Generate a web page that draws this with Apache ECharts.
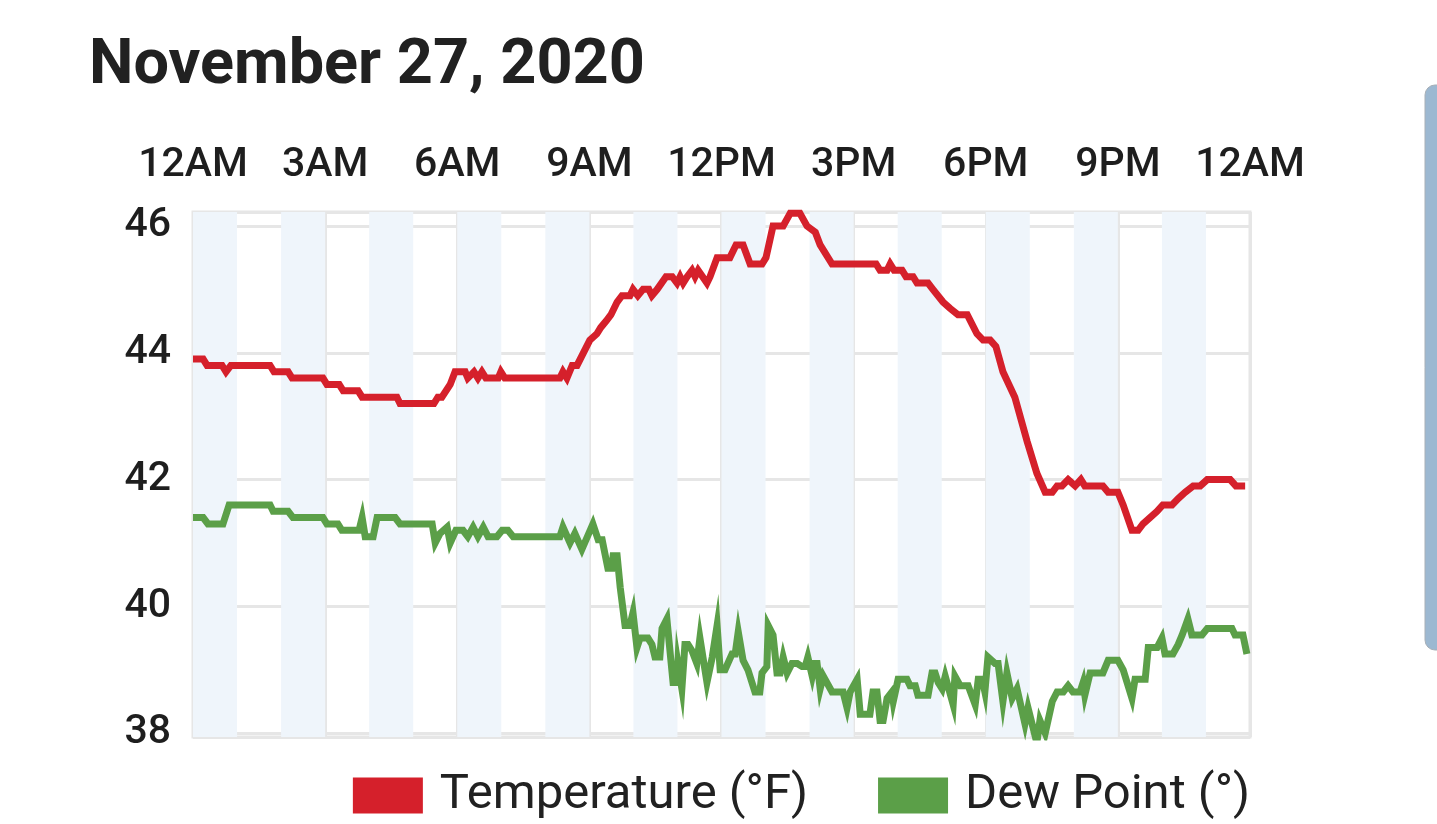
<!DOCTYPE html>
<html lang="en">
<head>
    <meta charset="UTF-8">
    <title>November 27, 2020</title>
    <script type="text/javascript" src="https://cdn.jsdelivr.net/npm/echarts@6/dist/echarts.min.js"></script>
    <style>
        html, body { margin: 0; padding: 0; background: #fff; }
        #charts { width: 1437px; height: 824px; }
    </style>
</head>
<body>
<div id="charts"></div>
<script>
    // hours since midnight
    var tempHours = [0, 0.23, 0.32, 0.66, 0.75, 0.86, 1.75, 1.84, 2.16, 2.25, 2.95, 3.04, 3.32, 3.41, 3.75, 3.84,
        4.63, 4.70, 5.47, 5.56, 5.65, 5.84, 5.95, 6.18, 6.24, 6.38, 6.47, 6.56, 6.65, 6.93, 6.99, 7.08,
        8.33, 8.40, 8.49, 8.61, 8.72, 9.01, 9.17, 9.26, 9.38, 9.49, 9.63, 9.74, 9.92, 9.99, 10.10, 10.22,
        10.35, 10.42, 10.54, 10.74, 10.88, 10.99, 11.06, 11.13, 11.22, 11.33, 11.40, 11.47, 11.67, 11.74,
        11.90, 12.19, 12.33, 12.49, 12.65, 12.92, 13.01, 13.17, 13.40, 13.56, 13.78, 13.94, 14.13, 14.24,
        14.51, 15.51, 15.60, 15.76, 15.83, 15.92, 16.10, 16.19, 16.35, 16.44, 16.69, 16.80, 17.03, 17.19,
        17.37, 17.58, 17.80, 17.94, 18.10, 18.23, 18.39, 18.66, 18.94, 19.16, 19.35, 19.51, 19.62, 19.73,
        19.87, 20.03, 20.16, 20.25, 20.66, 20.78, 21.00, 21.12, 21.32, 21.46, 21.57, 21.73, 21.89, 22.02,
        22.23, 22.37, 22.53, 22.71, 22.87, 23.03, 23.55, 23.68, 23.89]
    var tempValues = [43.9, 43.9, 43.8, 43.8, 43.7, 43.8, 43.8, 43.7, 43.7, 43.6, 43.6, 43.5, 43.5, 43.4, 43.4, 43.3,
        43.3, 43.2, 43.2, 43.3, 43.3, 43.5, 43.7, 43.7, 43.6, 43.7, 43.6, 43.7, 43.6, 43.6, 43.7, 43.6,
        43.6, 43.7, 43.6, 43.8, 43.8, 44.2, 44.3, 44.4, 44.5, 44.6, 44.8, 44.9, 44.9, 45.0, 44.9, 45.0,
        45.0, 44.9, 45.0, 45.2, 45.2, 45.1, 45.2, 45.1, 45.2, 45.3, 45.2, 45.3, 45.1, 45.2,
        45.5, 45.5, 45.7, 45.7, 45.4, 45.4, 45.5, 46.0, 46.0, 46.2, 46.2, 46.0, 45.9, 45.7,
        45.4, 45.4, 45.3, 45.3, 45.4, 45.3, 45.3, 45.2, 45.2, 45.1, 45.1, 45.0, 44.8, 44.7,
        44.6, 44.6, 44.3, 44.2, 44.2, 44.1, 43.7, 43.3, 42.6, 42.1, 41.8, 41.8, 41.9, 41.9,
        42.0, 41.9, 42.0, 41.9, 41.9, 41.8, 41.8, 41.6, 41.2, 41.2, 41.3, 41.4, 41.5, 41.6,
        41.6, 41.7, 41.8, 41.9, 41.9, 42.0, 42.0, 41.9, 41.9]

    var dewHours = [0, 0.23, 0.34, 0.68, 0.82, 1.75, 1.82, 2.16, 2.27, 2.95, 3.04, 3.29, 3.38, 3.77, 3.84, 3.91,
        4.09, 4.18, 4.59, 4.70, 5.43, 5.50, 5.61, 5.77, 5.84, 5.97, 6.13, 6.24, 6.36, 6.47, 6.59, 6.70,
        6.90, 7.02, 7.15, 7.27, 8.33, 8.40, 8.56, 8.67, 8.83, 9.08, 9.20, 9.29, 9.42, 9.51, 9.54, 9.63,
        9.70, 9.81, 9.92, 9.99, 10.08, 10.15, 10.33, 10.42, 10.49, 10.60, 10.65, 10.76, 10.90, 10.99,
        11.01, 11.10, 11.17, 11.24, 11.33, 11.44, 11.51, 11.67, 11.79, 11.90, 11.97, 12.08, 12.24, 12.31,
        12.38, 12.49, 12.60, 12.76, 12.87, 12.92, 13.03, 13.06, 13.17, 13.26, 13.33, 13.40, 13.49, 13.60,
        13.72, 13.83, 13.90, 13.96, 14.06, 14.12, 14.17, 14.24, 14.31, 14.51, 14.76, 14.85, 14.92, 15.08,
        15.15, 15.37, 15.44, 15.53, 15.60, 15.67, 15.76, 15.87, 15.90, 16.01, 16.21, 16.28, 16.40, 16.46,
        16.69, 16.78, 16.85, 16.92, 17.01, 17.08, 17.26, 17.30, 17.42, 17.60, 17.76, 17.83, 17.92, 17.98,
        18.05, 18.21, 18.28, 18.39, 18.48, 18.60, 18.71, 18.89, 18.96, 19.16, 19.23, 19.35, 19.51, 19.62,
        19.76, 19.87, 19.98, 20.14, 20.21, 20.25, 20.37, 20.66, 20.78, 21.00, 21.12, 21.32, 21.39, 21.62,
        21.69, 21.89, 22.00, 22.07, 22.25, 22.37, 22.46, 22.59, 22.68, 22.91, 23.03, 23.59, 23.66, 23.84,
        23.93]
    var dewValues = [41.4, 41.4, 41.3, 41.3, 41.6, 41.6, 41.5, 41.5, 41.4, 41.4, 41.3, 41.3, 41.2, 41.2, 41.4, 41.1,
        41.1, 41.4, 41.4, 41.3, 41.3, 41.0, 41.15, 41.25, 41.0, 41.2, 41.2, 41.1, 41.25, 41.1, 41.25, 41.1,
        41.1, 41.2, 41.2, 41.1, 41.1, 41.25, 41.0, 41.15, 40.9, 41.3, 41.05, 41.05, 40.6, 40.6, 40.8, 40.8,
        40.3, 39.7, 39.7, 39.9, 39.35, 39.5, 39.5, 39.4, 39.2, 39.2, 39.65, 39.8, 38.8, 38.8,
        39.1, 38.7, 39.4, 39.4, 39.3, 39.1, 39.5, 38.8, 39.2, 39.7, 39.0, 39.0, 39.25, 39.25,
        39.6, 39.15, 39.0, 38.65, 38.65, 38.95, 39.05, 39.7, 39.55, 38.95, 38.95, 39.2, 38.95, 39.1,
        39.1, 39.05, 39.05, 39.2, 38.9, 39.1, 39.1, 38.7, 38.9, 38.65, 38.65, 38.4, 38.65, 38.85,
        38.3, 38.3, 38.65, 38.65, 38.2, 38.2, 38.55, 38.65, 38.5, 38.85, 38.85, 38.75, 38.75, 38.6,
        38.6, 38.95, 38.95, 38.8, 38.7, 38.9, 38.45, 38.9, 38.75, 38.75, 38.45, 38.85, 38.85, 38.65,
        39.2, 39.1, 39.1, 38.5, 38.95, 38.55, 38.7, 38.15, 38.4, 37.85, 38.2, 38.0, 38.5, 38.65,
        38.65, 38.75, 38.65, 38.65, 38.8, 38.6, 38.95, 38.95, 39.15, 39.15, 39.0, 38.55, 38.85, 38.85,
        39.35, 39.35, 39.5, 39.25, 39.25, 39.4, 39.55, 39.8, 39.55, 39.55, 39.65, 39.65, 39.55, 39.55,
        39.25]

    var tickLabels = ['12AM', '3AM', '6AM', '9AM', '12PM', '3PM', '6PM', '9PM', '12AM']
    var shadedStarts = [0, 2, 4, 6, 8, 10, 12, 14, 16, 18, 20, 22] // light bands, one hour wide

    var font = 'Roboto, "Noto Sans", sans-serif'
    var gridColor = '#e6e6e6'

    function pairs(xs, ys) {
        var out = []
        for (var i = 0; i < xs.length; i++) {
            out.push([xs[i], ys[i]])
        }
        return out
    }

    var bands = []
    for (var i = 0; i < shadedStarts.length; i++) {
        bands.push([{xAxis: shadedStarts[i]}, {xAxis: shadedStarts[i] + 1}])
    }

    var chart = echarts.init(document.getElementById('charts'), null, {renderer: 'canvas'})
    chart.setOption({
        animation: false,
        backgroundColor: '#ffffff',
        title: {
            text: 'November 27, 2020',
            left: 84,
            top: 31,
            textStyle: {fontFamily: font, fontSize: 63, fontWeight: 'bold', color: '#212121'}
        },
        legend: {
            right: 182,
            top: 766,
            icon: 'rect',
            itemWidth: 70,
            itemHeight: 36,
            itemGap: 70,
            textStyle: {fontFamily: font, fontSize: 49, color: '#212121', padding: [0, 0, 0, 12]},
            data: ['Temperature (°F)', 'Dew Point (°)']
        },
        grid: {
            left: 193, right: 187, top: 212, bottom: 87,
            show: true,
            borderColor: gridColor,
            borderWidth: 3,
            containLabel: false
        },
        xAxis: {
            type: 'value',
            position: 'top',
            min: 0,
            max: 24,
            interval: 3,
            axisLine: {show: false},
            axisTick: {show: false},
            axisLabel: {
                margin: 26,
                fontFamily: font,
                fontSize: 41,
                fontWeight: 500,
                color: '#1e1e1e',
                formatter: function (v) { return tickLabels[Math.round(v / 3)] }
            },
            splitLine: {show: true, lineStyle: {color: gridColor, width: 3}}
        },
        yAxis: {
            type: 'value',
            min: 37.94,
            max: 46.22,
            splitNumber: 4,
            axisLine: {show: false},
            axisTick: {show: false},
            axisLabel: {
                margin: 22,
                fontFamily: font,
                fontSize: 41,
                fontWeight: 500,
                color: '#1e1e1e',
                showMinLabel: false,
                showMaxLabel: false,
                formatter: function (v) { return Math.abs(v - Math.round(v)) < 0.01 ? String(Math.round(v)) : '' }
            },
            splitLine: {show: true, lineStyle: {color: gridColor, width: 3}}
        },
        graphic: [{
            type: 'rect',
            shape: {x: 1425, y: 85, width: 30, height: 565, r: 10},
            style: {fill: '#9cb8d1', stroke: '#a7afb7', lineWidth: 1}
        }],
        series: [
            {
                name: 'Temperature (°F)',
                type: 'line',
                data: pairs(tempHours, tempValues),
                showSymbol: false,
                symbol: 'none',
                color: '#d5202b',
                itemStyle: {color: '#d5202b'},
                lineStyle: {color: '#d5202b', width: 7, join: 'miter'},
                z: 3,
                markArea: {
                    silent: true,
                    itemStyle: {color: '#eff5fb'},
                    data: bands
                }
            },
            {
                name: 'Dew Point (°)',
                type: 'line',
                data: pairs(dewHours, dewValues),
                showSymbol: false,
                symbol: 'none',
                color: '#5b9f48',
                itemStyle: {color: '#5b9f48'},
                lineStyle: {color: '#5b9f48', width: 7, join: 'miter'},
                z: 3
            }
        ]
    })
</script>
</body>
</html>
